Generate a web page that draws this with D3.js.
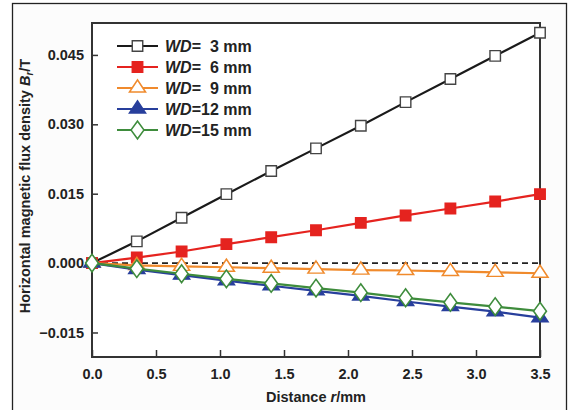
<!DOCTYPE html>
<html>
<head>
<meta charset="utf-8">
<script src="https://cdn.jsdelivr.net/npm/d3@7"></script>
<style>
  html, body { margin: 0; padding: 0; background: #ffffff; }
  svg { display: block; font-family: "Liberation Sans", Arial, sans-serif; }
</style>
</head>
<body>
<svg id="chart" width="572" height="410"></svg>
<script>
// Distance r (mm) sampled along the surface
const distance = [0, 0.35, 0.7, 1.05, 1.4, 1.75, 2.1, 2.45, 2.8, 3.15, 3.5];

// Horizontal magnetic flux density B_r (T) for each working distance WD
const wd3  = [0, 0.0047, 0.0098, 0.0149, 0.0199, 0.0248, 0.0297, 0.0348, 0.0398, 0.0448, 0.0498];
const wd6  = [0, 0.0012, 0.0025, 0.0041, 0.0056, 0.0071, 0.0087, 0.0103, 0.0118, 0.0133, 0.0149];
const wd9  = [0, -0.0005, -0.0007, -0.0009, -0.0011, -0.0013, -0.0015, -0.0016, -0.0018, -0.0020, -0.0022];
const wd12 = [0, -0.0014, -0.0026, -0.0038, -0.0049, -0.0060, -0.0071, -0.0083, -0.0094, -0.0105, -0.0118];
const wd15 = [0, -0.0012, -0.0023, -0.0034, -0.0044, -0.0054, -0.0064, -0.0075, -0.0085, -0.0094, -0.0104];

const seriesLabels = ["3", "6", "9", "12", "15"];
const xTicks = [0, 0.5, 1.0, 1.5, 2.0, 2.5, 3.0, 3.5];
const yTicks = [-0.015, 0, 0.015, 0.030, 0.045];

const series = [
  { label: seriesLabels[0], values: wd3,  color: "#1a1a1a", shape: "square",   filled: false },
  { label: seriesLabels[1], values: wd6,  color: "#e5231f", shape: "square",   filled: true  },
  { label: seriesLabels[2], values: wd9,  color: "#f08a2c", shape: "triangle", filled: false },
  { label: seriesLabels[3], values: wd12, color: "#283f9c", shape: "triangle", filled: true  },
  { label: seriesLabels[4], values: wd15, color: "#3e8c3c", shape: "diamond",  filled: false }
];

const svg = d3.select("#chart");
const plot = { left: 92, right: 540, top: 23, bottom: 357 };

const x = d3.scaleLinear().domain([0, 3.5]).range([plot.left, plot.right]);
const y = d3.scaleLinear().domain([-0.0203, 0.0519]).range([plot.bottom, plot.top]);

// Outer figure border
svg.append("rect")
  .attr("x", 12.5).attr("y", 3.5)
  .attr("width", 554).attr("height", 420)
  .attr("fill", "#fcfcfc")
  .attr("stroke", "#222").attr("stroke-width", 1.3);

svg.append("rect")
  .attr("x", plot.left).attr("y", plot.top)
  .attr("width", plot.right - plot.left).attr("height", plot.bottom - plot.top)
  .attr("fill", "#ffffff");

// Zero reference line
svg.append("line")
  .attr("x1", plot.left).attr("x2", plot.right)
  .attr("y1", y(0)).attr("y2", y(0))
  .attr("stroke", "#222").attr("stroke-width", 1.6)
  .attr("stroke-dasharray", "6,4");

// Axes: ticks point into the plot
const fmtY = d3.format(".3f");
const fmtX = d3.format(".1f");

const xAxis = svg.append("g")
  .attr("transform", `translate(0,${plot.bottom})`)
  .call(d3.axisBottom(x).tickValues(xTicks).tickFormat(fmtX).tickSizeInner(-7).tickSizeOuter(0).tickPadding(12));

const yAxis = svg.append("g")
  .attr("transform", `translate(${plot.left},0)`)
  .call(d3.axisLeft(y).tickValues(yTicks).tickFormat(fmtY).tickSizeInner(-6).tickSizeOuter(0).tickPadding(8));

[xAxis, yAxis].forEach(g => {
  g.select(".domain").remove();
  g.selectAll(".tick line").attr("stroke", "#333").attr("stroke-width", 1.5);
  g.selectAll(".tick text")
    .attr("fill", "#222")
    .attr("font-size", 14.5)
    .attr("font-weight", "bold")
    .attr("font-family", "Liberation Sans, Arial, sans-serif");
});

// Plot frame
svg.append("rect")
  .attr("x", plot.left).attr("y", plot.top)
  .attr("width", plot.right - plot.left).attr("height", plot.bottom - plot.top)
  .attr("fill", "none")
  .attr("stroke", "#333").attr("stroke-width", 2);

// Marker symbols
const shapeSize = { square: 110, triangle: 85, diamond: 100 };
function symbolPath(shape) {
  const type = shape === "square" ? d3.symbolSquare
             : shape === "triangle" ? d3.symbolTriangle
             : d3.symbolDiamond;
  return d3.symbol().type(type).size(shapeSize[shape])();
}
function drawMarker(g, s, cx, cy) {
  const p = g.append("path")
    .attr("d", symbolPath(s.shape))
    .attr("transform", s.shape === "diamond"
      ? `translate(${cx},${cy}) scale(1.2,0.95)`
      : s.shape === "triangle" ? `translate(${cx},${cy}) scale(1.15,1)` : `translate(${cx},${cy})`)
    .attr("stroke-width", 1.4);
  if (s.filled) {
    p.attr("fill", s.color).attr("stroke", s.color);
  } else {
    p.attr("fill", "#ffffff").attr("stroke", s.shape === "square" ? "#444" : s.color);
  }
}

const line = d3.line().x(d => x(d[0])).y(d => y(d[1]));

series.forEach(s => {
  const pts = distance.map((d, i) => [d, s.values[i]]);
  const g = svg.append("g");
  g.append("path")
    .attr("d", line(pts))
    .attr("fill", "none")
    .attr("stroke", s.color)
    .attr("stroke-width", 2.2);
  pts.forEach(p => drawMarker(g, s, x(p[0]), y(p[1])));
});

// Legend
const legend = svg.append("g");
const legendX = 117, legendY0 = 46, legendStep = 21;
series.forEach((s, i) => {
  const ly = legendY0 + i * legendStep;
  legend.append("line")
    .attr("x1", legendX).attr("x2", legendX + 41)
    .attr("y1", ly).attr("y2", ly)
    .attr("stroke", s.color).attr("stroke-width", 2.2);
  drawMarker(legend, s, legendX + 20.5, ly);
  const t = legend.append("text")
    .attr("x", legendX + 48).attr("y", ly + 5.5)
    .attr("font-size", 16).attr("font-weight", "bold").attr("fill", "#222")
    .style("white-space", "pre");
  t.append("tspan").attr("font-style", "italic").text("WD");
  t.append("tspan").text(s.label.length === 1 ? "=  " + s.label + " mm" : "=" + s.label + " mm");
});

// Axis titles
const xTitle = svg.append("text")
  .attr("x", (plot.left + plot.right) / 2).attr("y", 402)
  .attr("text-anchor", "middle")
  .attr("font-size", 14.5).attr("font-weight", "bold").attr("fill", "#222");
xTitle.append("tspan").text("Distance ");
xTitle.append("tspan").attr("font-style", "italic").text("r");
xTitle.append("tspan").text("/mm");

const yTitle = svg.append("text")
  .attr("transform", `translate(30,${(plot.top + plot.bottom) / 2 - 4}) rotate(-90)`)
  .attr("text-anchor", "middle")
  .attr("font-size", 14.5).attr("font-weight", "bold").attr("fill", "#222");
yTitle.append("tspan").text("Horizontal magnetic flux density ");
yTitle.append("tspan").attr("font-style", "italic").text("B");
yTitle.append("tspan").attr("font-style", "italic").attr("font-size", 10).attr("dy", 3).text("r");
yTitle.append("tspan").attr("dy", -3).text("/T");
</script>
</body>
</html>
